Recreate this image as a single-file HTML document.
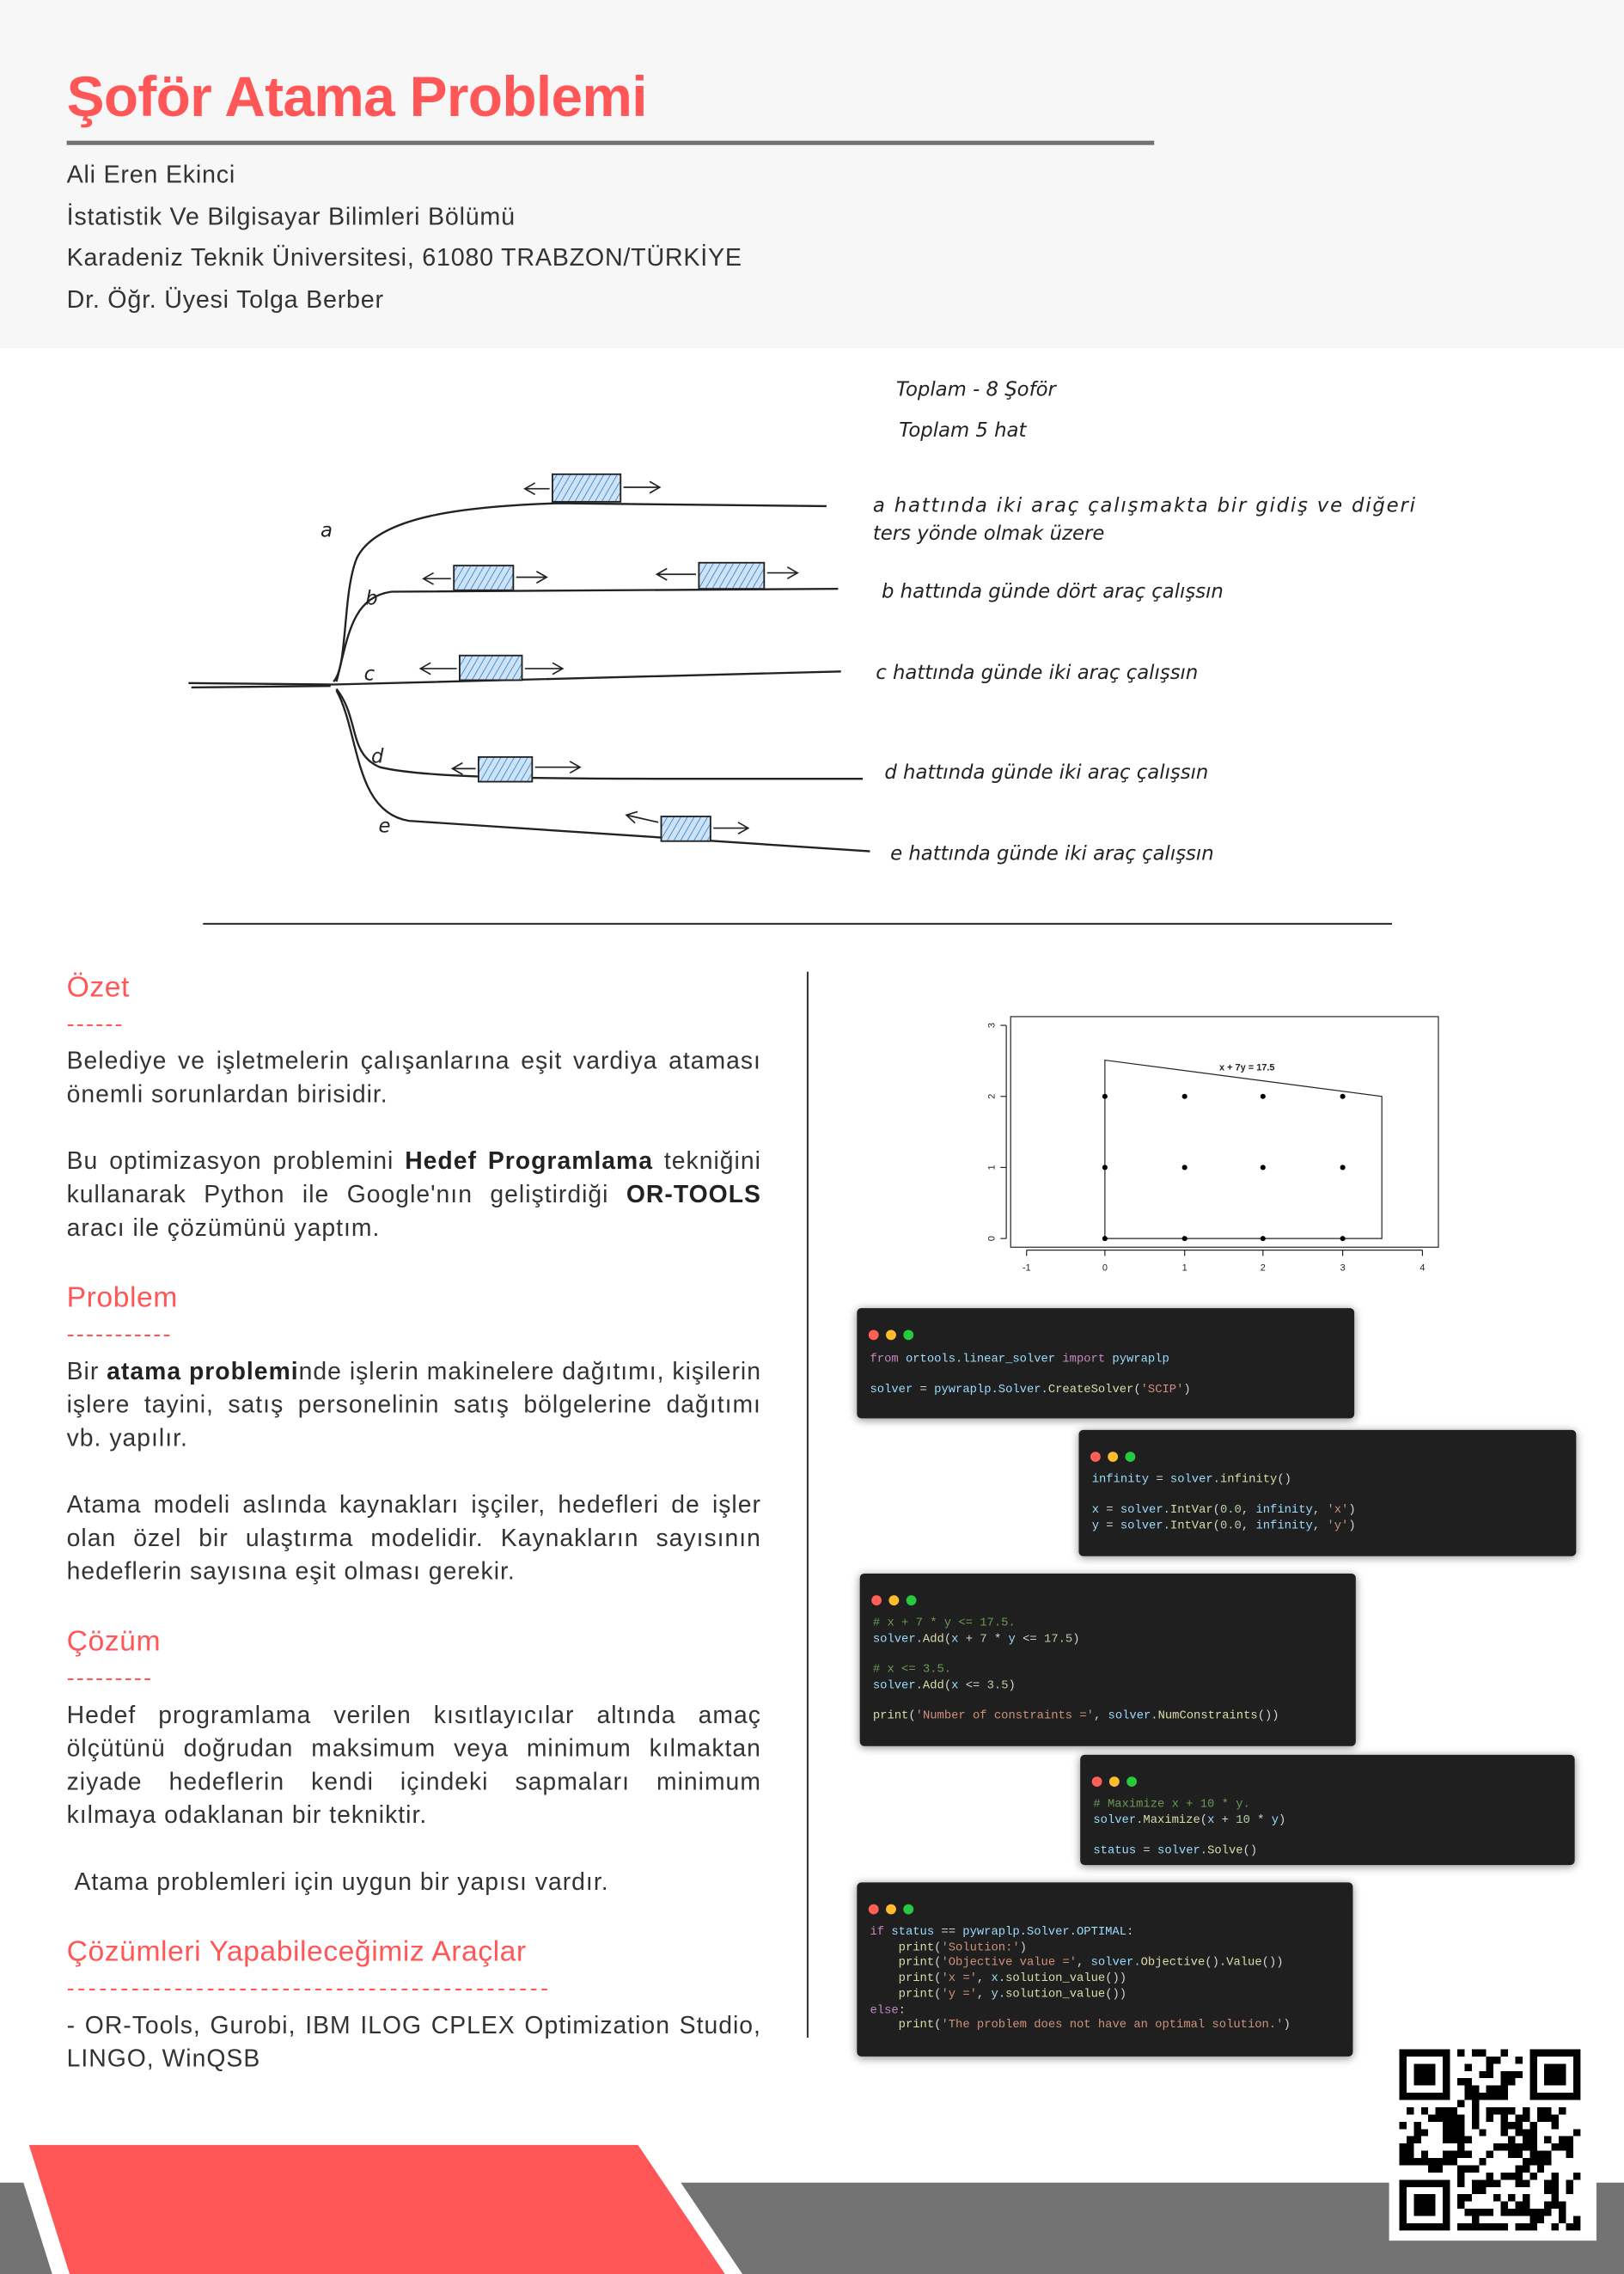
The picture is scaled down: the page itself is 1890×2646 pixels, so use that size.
<!DOCTYPE html>
<html><head><meta charset="utf-8">
<style>
html,body{margin:0;padding:0;background:#fff;}
body{width:1890px;height:2646px;overflow:hidden;position:relative;}
#w{position:absolute;left:0;top:0;width:1120px;height:1568px;transform:scale(1.6875);transform-origin:0 0;font-family:"Liberation Sans","DejaVu Sans",sans-serif;color:#333;}
.a{position:absolute;}
.hdr{left:0;top:0;width:1120px;height:240px;background:#f7f7f7;}
.title{left:46px;top:46px;font-size:39px;font-weight:bold;color:#ff5757;letter-spacing:-0.4px;}
.rule{left:46px;top:97px;width:750px;height:2.5px;background:#737373;}
.au{left:46px;font-size:17px;color:#333;letter-spacing:0.45px;}
.h{left:46px;font-size:20px;color:#ff5757;letter-spacing:0.3px;}
.d{left:46px;font-size:16px;color:#ff5757;letter-spacing:1.3px;}
.p{left:46px;width:479px;font-size:16.8px;line-height:23px;text-align:justify;color:#333;letter-spacing:0.6px;}
.p b{color:#222;}
.code{position:absolute;background:#1f1f1f;border-radius:3px;box-shadow:0 1px 6px rgba(0,0,0,0.45);}
.code .dots{position:absolute;left:8px;top:9px;}
.code .dots i{display:inline-block;width:7px;height:7px;border-radius:50%;margin-right:5px;}
.code pre{position:absolute;left:9px;margin:0;font-family:"Liberation Mono","DejaVu Sans Mono",monospace;font-size:8.2px;line-height:10.7px;color:#9cdcfe;}
.k{color:#c586c0}.f{color:#dcdcaa}.s{color:#ce9178}.c{color:#6a9955}.n{color:#b5cea8}.w{color:#d4d4d4}
.hw{font-family:"DejaVu Sans","Liberation Sans",sans-serif;font-style:italic;font-size:13.5px;fill:#222;}
</style></head><body>
<div id="w">
<div class="a hdr"></div>
<div class="a title">Şoför Atama Problemi</div>
<div class="a rule"></div>
<div class="a au" style="top:111px">Ali Eren Ekinci</div>
<div class="a au" style="top:140px">İstatistik Ve Bilgisayar Bilimleri Bölümü</div>
<div class="a au" style="top:168px">Karadeniz Teknik Üniversitesi, 61080 TRABZON/TÜRKİYE</div>
<div class="a au" style="top:197px">Dr. Öğr. Üyesi Tolga Berber</div>

<svg class="a" style="left:0;top:0" width="1120" height="1568" viewBox="0 0 1120 1568">
<defs>
<pattern id="hat" width="4" height="4" patternUnits="userSpaceOnUse" patternTransform="rotate(30)">
<rect width="4" height="4" fill="#cfe3f7"/><line x1="0" y1="0" x2="0" y2="4" stroke="#4a90d9" stroke-width="1.2"/></pattern>
<marker id="ar" markerWidth="10" markerHeight="10" refX="8" refY="5" orient="auto" markerUnits="userSpaceOnUse"><path d="M1,1 L8,5 L1,9" fill="none" stroke="#222" stroke-width="1"/></marker>
</defs>
<g fill="none" stroke="#222" stroke-width="1.4">
<path d="M130,471 L230,472 L580,463"/>
<path d="M132,474 L228,473"/>
<path d="M230,470 C240,460 236,410 246,385 C260,356 320,349 385,347 L570,349"/>
<path d="M232,470 C240,440 242,412 270,408 L578,406"/>
<path d="M232,475 C248,495 240,520 262,529 C300,538 400,537 595,537"/>
<path d="M232,476 C248,505 244,560 282,566 L600,587"/>
</g>
<g stroke="#222" stroke-width="1.1" fill="url(#hat)">
<rect x="381" y="327" width="47" height="19"/>
<rect x="313" y="390" width="41" height="17"/>
<rect x="482" y="388" width="45" height="18"/>
<rect x="317" y="452" width="43" height="17"/>
<rect x="330" y="522" width="37" height="17"/>
<rect x="456" y="563" width="34" height="17"/>
</g>
<g stroke="#222" stroke-width="1" fill="none" marker-end="url(#ar)">
<line x1="379" y1="337" x2="362" y2="337"/><line x1="430" y1="336" x2="455" y2="336"/>
<line x1="311" y1="399" x2="292" y2="399"/><line x1="356" y1="398" x2="377" y2="398"/>
<line x1="480" y1="396" x2="453" y2="396"/><line x1="529" y1="395" x2="550" y2="395"/>
<line x1="315" y1="461" x2="290" y2="461"/><line x1="362" y1="461" x2="388" y2="461"/>
<line x1="328" y1="530" x2="312" y2="530"/><line x1="369" y1="529" x2="400" y2="529"/>
<line x1="454" y1="567" x2="432" y2="562"/><line x1="492" y1="571" x2="516" y2="571"/>
</g>
<g class="hw">
<text x="221" y="370">a</text><text x="252" y="417">b</text><text x="251" y="469">c</text>
<text x="256" y="526">d</text><text x="261" y="574">e</text>
<text x="618" y="273">Toplam - 8 Şoför</text>
<text x="620" y="301">Toplam 5 hat</text>
<text x="602" y="353" textLength="374">a hattında iki araç çalışmakta bir gidiş ve diğeri</text>
<text x="602" y="372">ters yönde olmak üzere</text>
<text x="608" y="412">b hattında günde dört araç çalışsın</text>
<text x="604" y="468">c hattında günde iki araç çalışsın</text>
<text x="610" y="537">d hattında günde iki araç çalışsın</text>
<text x="614" y="593">e hattında günde iki araç çalışsın</text>
</g>
<line x1="140" y1="637" x2="960" y2="637" stroke="#333" stroke-width="1.3"/>
<line x1="557" y1="670" x2="557" y2="1405" stroke="#333" stroke-width="1.2"/>
<g stroke="#222" stroke-width="0.7" fill="none">
<rect x="697" y="701" width="295" height="159"/>
<polygon points="762,731 953,756 953,854 762,854"/>
<line x1="708" y1="862" x2="981" y2="862"/>
<line x1="708" y1="862" x2="708" y2="866"/><line x1="762" y1="862" x2="762" y2="866"/><line x1="817" y1="862" x2="817" y2="866"/><line x1="871" y1="862" x2="871" y2="866"/><line x1="926" y1="862" x2="926" y2="866"/><line x1="981" y1="862" x2="981" y2="866"/>
<line x1="694" y1="707" x2="694" y2="854"/>
<line x1="690" y1="707" x2="694" y2="707"/><line x1="690" y1="756" x2="694" y2="756"/><line x1="690" y1="805" x2="694" y2="805"/><line x1="690" y1="854" x2="694" y2="854"/>
</g>
<g fill="#000">
<circle cx="762" cy="756" r="1.8"/><circle cx="817" cy="756" r="1.8"/><circle cx="871" cy="756" r="1.8"/><circle cx="926" cy="756" r="1.8"/>
<circle cx="762" cy="805" r="1.8"/><circle cx="817" cy="805" r="1.8"/><circle cx="871" cy="805" r="1.8"/><circle cx="926" cy="805" r="1.8"/>
<circle cx="762" cy="854" r="1.8"/><circle cx="817" cy="854" r="1.8"/><circle cx="871" cy="854" r="1.8"/><circle cx="926" cy="854" r="1.8"/>
</g>
<g font-family="Liberation Sans,sans-serif" font-size="6.5" fill="#222" text-anchor="middle">
<text x="860" y="738" font-weight="bold">x + 7y = 17.5</text>
<text x="708" y="876">-1</text><text x="762" y="876">0</text><text x="817" y="876">1</text><text x="871" y="876">2</text><text x="926" y="876">3</text><text x="981" y="876">4</text>
<text transform="translate(686,854) rotate(-90)">0</text><text transform="translate(686,805) rotate(-90)">1</text><text transform="translate(686,756) rotate(-90)">2</text><text transform="translate(686,707) rotate(-90)">3</text>
</g>
<rect x="0" y="1505" width="1120" height="63" fill="#737373"/>
<polygon points="8,1479 452,1479 512,1568 36,1568" fill="#fff"/>
<polygon points="20,1479 440,1479 500,1568 48,1568" fill="#ff5757"/>
</svg>

<div class="a h" style="top:670px">Özet</div>
<div class="a d" style="top:698px">------</div>
<div class="a p" style="top:720px">Belediye ve işletmelerin çalışanlarına eşit vardiya ataması önemli sorunlardan birisidir.</div>
<div class="a p" style="top:789px">Bu optimizasyon problemini <b>Hedef Programlama</b> tekniğini kullanarak Python ile Google'nın geliştirdiği <b>OR-TOOLS</b> aracı ile çözümünü yaptım.</div>
<div class="a h" style="top:884px">Problem</div>
<div class="a d" style="top:912px">-----------</div>
<div class="a p" style="top:934px">Bir <b>atama problemi</b>nde işlerin makinelere dağıtımı, kişilerin işlere tayini, satış personelinin satış bölgelerine dağıtımı vb. yapılır.</div>
<div class="a p" style="top:1026px">Atama modeli aslında kaynakları işçiler, hedefleri de işler olan özel bir ulaştırma modelidir. Kaynakların sayısının hedeflerin sayısına eşit olması gerekir.</div>
<div class="a h" style="top:1121px">Çözüm</div>
<div class="a d" style="top:1149px">---------</div>
<div class="a p" style="top:1171px">Hedef programlama verilen kısıtlayıcılar altında amaç ölçütünü doğrudan maksimum veya minimum kılmaktan ziyade hedeflerin kendi içindeki sapmaları minimum kılmaya odaklanan bir tekniktir.</div>
<div class="a p" style="top:1286px">&nbsp;Atama problemleri için uygun bir yapısı vardır.</div>
<div class="a h" style="top:1335px">Çözümleri Yapabileceğimiz Araçlar</div>
<div class="a d" style="top:1363px;letter-spacing:2.1px">---------------------------------------------</div>
<div class="a p" style="top:1385px">- OR-Tools, Gurobi, IBM ILOG CPLEX Optimization Studio, LINGO, WinQSB</div>

<div class="code" style="left:591px;top:902px;width:343px;height:76px">
<div class="dots"><i style="background:#ff5f56"></i><i style="background:#ffbd2e"></i><i style="background:#27c93f"></i></div>
<pre style="top:31px"><span class="k">from</span> ortools.linear_solver <span class="k">import</span> pywraplp

solver <span class="w">=</span> pywraplp.Solver.<span class="f">CreateSolver</span><span class="w">(</span><span class="s">'SCIP'</span><span class="w">)</span></pre></div>

<div class="code" style="left:744px;top:986px;width:343px;height:87px">
<div class="dots"><i style="background:#ff5f56"></i><i style="background:#ffbd2e"></i><i style="background:#27c93f"></i></div>
<pre style="top:30px">infinity <span class="w">=</span> solver.<span class="f">infinity</span><span class="w">()</span>

x <span class="w">=</span> solver.<span class="f">IntVar</span><span class="w">(</span><span class="n">0.0</span><span class="w">,</span> infinity<span class="w">,</span> <span class="s">'x'</span><span class="w">)</span>
y <span class="w">=</span> solver.<span class="f">IntVar</span><span class="w">(</span><span class="n">0.0</span><span class="w">,</span> infinity<span class="w">,</span> <span class="s">'y'</span><span class="w">)</span></pre></div>

<div class="code" style="left:593px;top:1085px;width:342px;height:119px">
<div class="dots"><i style="background:#ff5f56"></i><i style="background:#ffbd2e"></i><i style="background:#27c93f"></i></div>
<pre style="top:30px"><span class="c"># x + 7 * y &lt;= 17.5.</span>
solver.<span class="f">Add</span><span class="w">(</span>x <span class="w">+</span> <span class="n">7</span> <span class="w">*</span> y <span class="w">&lt;=</span> <span class="n">17.5</span><span class="w">)</span>

<span class="c"># x &lt;= 3.5.</span>
solver.<span class="f">Add</span><span class="w">(</span>x <span class="w">&lt;=</span> <span class="n">3.5</span><span class="w">)</span>

<span class="f">print</span><span class="w">(</span><span class="s">'Number of constraints ='</span><span class="w">,</span> solver.<span class="f">NumConstraints</span><span class="w">())</span></pre></div>

<div class="code" style="left:745px;top:1210px;width:341px;height:76px">
<div class="dots"><i style="background:#ff5f56"></i><i style="background:#ffbd2e"></i><i style="background:#27c93f"></i></div>
<pre style="top:30px"><span class="c"># Maximize x + 10 * y.</span>
solver.<span class="f">Maximize</span><span class="w">(</span>x <span class="w">+</span> <span class="n">10</span> <span class="w">*</span> y<span class="w">)</span>

status <span class="w">=</span> solver.<span class="f">Solve</span><span class="w">()</span></pre></div>

<div class="code" style="left:591px;top:1298px;width:342px;height:120px">
<div class="dots"><i style="background:#ff5f56"></i><i style="background:#ffbd2e"></i><i style="background:#27c93f"></i></div>
<pre style="top:30px"><span class="k">if</span> status <span class="w">==</span> pywraplp.Solver.OPTIMAL<span class="w">:</span>
    <span class="f">print</span><span class="w">(</span><span class="s">'Solution:'</span><span class="w">)</span>
    <span class="f">print</span><span class="w">(</span><span class="s">'Objective value ='</span><span class="w">,</span> solver.<span class="f">Objective</span><span class="w">().</span><span class="f">Value</span><span class="w">())</span>
    <span class="f">print</span><span class="w">(</span><span class="s">'x ='</span><span class="w">,</span> x.<span class="f">solution_value</span><span class="w">())</span>
    <span class="f">print</span><span class="w">(</span><span class="s">'y ='</span><span class="w">,</span> y.<span class="f">solution_value</span><span class="w">())</span>
<span class="k">else</span><span class="w">:</span>
    <span class="f">print</span><span class="w">(</span><span class="s">'The problem does not have an optimal solution.'</span><span class="w">)</span></pre></div>

<div class="a" style="left:958px;top:1410px;width:143px;height:135px;background:#fff"></div>
<svg class="a" id="qr" style="left:965px;top:1413px" width="125" height="125" viewBox="0 0 25 25" shape-rendering="crispEdges"></svg>
</div>
<script>
(function(){
var s=document.getElementById('qr'),h='',seed=7;
function r(){seed=(seed*16807)%2147483647;return seed/2147483647;}
function fin(x,y){return x<8&&y<8||x>16&&y<8||x<8&&y>16;}
for(var y=0;y<25;y++)for(var x=0;x<25;x++){
 if(fin(x,y))continue;
 if(r()<0.5)h+='<rect x="'+x+'" y="'+y+'" width="1" height="1"/>';
}
[[0,0],[18,0],[0,18]].forEach(function(p){
 h+='<rect x="'+(p[0]+0.5)+'" y="'+(p[1]+0.5)+'" width="6" height="6" fill="none" stroke="#000" stroke-width="1"/>';
 h+='<rect x="'+(p[0]+2)+'" y="'+(p[1]+2)+'" width="3" height="3"/>';
});
s.innerHTML=h;
})();
</script>
</body></html>
